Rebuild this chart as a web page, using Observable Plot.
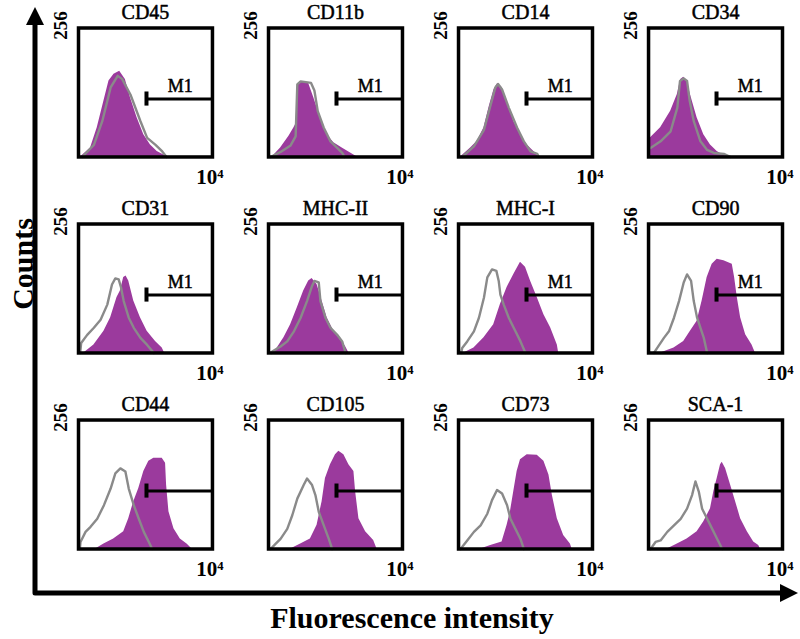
<!DOCTYPE html>
<html><head><meta charset="utf-8">
<script src="https://cdn.jsdelivr.net/npm/d3@7"></script>
<script src="https://cdn.jsdelivr.net/npm/@observablehq/plot@0.6"></script>
<style>html,body{margin:0;padding:0;background:#fff}</style>
</head><body><div id="chart"></div>
<script>
// x: log fluorescence (decades, 10^0..10^4), y: counts (0..256)
const markers = ["CD45","CD11b","CD14","CD34","CD31","MHC-II","MHC-I","CD90","CD44","CD105","CD73","SCA-1"];
const showM1Label = [true,true,true,true,true,true,true,true,false,false,false,false];

const cd45Stained = [[0.06,0],[0.36,18],[0.56,58],[0.76,111],[0.91,151],[1.06,164],[1.23,170],[1.40,154],[1.55,118],[1.75,78],[1.95,44],[2.15,24],[2.35,11],[2.55,4],[2.63,0]];
const cd45Isotype = [[0.11,0],[0.46,24],[0.71,71],[0.96,138],[1.17,161],[1.30,155],[1.55,124],[1.85,71],[2.05,38],[2.30,24],[2.50,11],[2.63,0]];
const cd11bStained = [[0.11,0],[0.36,18],[0.61,41],[0.76,58],[0.85,70],[0.88,144],[1.00,149],[1.20,146],[1.35,118],[1.55,78],[1.75,44],[1.95,28],[2.20,18],[2.45,8],[2.65,0]];
const cd11bIsotype = [[0.06,0],[0.36,10],[0.66,23],[0.81,41],[0.86,144],[0.96,150],[1.27,147],[1.37,132],[1.47,91],[1.65,58],[1.85,31],[2.05,18],[2.20,8],[2.27,0]];
const cd14Stained = [[0.06,0],[0.36,18],[0.56,31],[0.76,58],[0.91,98],[1.06,134],[1.17,146],[1.30,138],[1.45,111],[1.65,71],[1.85,44],[2.05,24],[2.25,11],[2.40,0]];
const cd14Isotype = [[0.11,0],[0.46,21],[0.76,54],[0.96,104],[1.10,138],[1.18,145],[1.30,134],[1.50,98],[1.75,58],[1.95,31],[2.15,11],[2.35,6],[2.40,0]];
const cd34Stained = [[0,34],[0.36,58],[0.66,91],[0.86,124],[0.96,154],[1.05,158],[1.15,151],[1.25,124],[1.45,78],[1.65,44],[1.85,24],[2.05,11],[2.25,3],[2.45,0]];
const cd34Isotype = [[0,16],[0.06,18],[0.36,31],[0.66,51],[0.86,98],[0.94,151],[1.05,156],[1.15,151],[1.23,111],[1.35,71],[1.55,31],[1.75,14],[1.95,8],[2.25,6],[2.45,0]];
const cd31Stained = [[0.16,0],[0.46,16],[0.76,43],[0.96,70],[1.15,110],[1.25,123],[1.35,150],[1.42,153],[1.50,143],[1.65,103],[1.85,70],[2.05,43],[2.30,23],[2.50,10],[2.57,0]];
const cd31Isotype = [[0.05,0],[0.08,20],[0.26,36],[0.46,50],[0.66,66],[0.86,96],[1.00,136],[1.10,148],[1.20,146],[1.27,130],[1.35,103],[1.50,70],[1.65,50],[1.85,30],[2.05,16],[2.25,0]];
const mhc2Stained = [[0.16,0],[0.26,10],[0.46,30],[0.66,56],[0.86,90],[1.05,123],[1.20,143],[1.30,148],[1.45,136],[1.60,103],[1.75,70],[1.95,43],[2.15,26],[2.30,13],[2.40,0]];
const mhc2Isotype = [[0.08,0],[0.11,3],[0.36,13],[0.56,23],[0.76,43],[0.96,70],[1.15,103],[1.30,133],[1.37,143],[1.50,140],[1.55,103],[1.70,70],[1.85,50],[2.05,36],[2.20,23],[2.30,0]];
const mhc1Stained = [[0.16,0],[0.46,10],[0.76,30],[1.05,56],[1.25,96],[1.45,130],[1.65,156],[1.85,180],[2.00,170],[2.15,143],[2.35,110],[2.55,76],[2.75,50],[2.95,16],[2.99,0]];
const mhc1Isotype = [[0.08,0],[0.11,10],[0.26,23],[0.46,43],[0.61,70],[0.76,110],[0.86,150],[1.00,166],[1.13,163],[1.20,143],[1.25,116],[1.35,96],[1.50,70],[1.70,43],[1.85,23],[2.00,0]];
const cd90Stained = [[0.36,0],[0.76,10],[1.05,23],[1.25,43],[1.45,63],[1.60,103],[1.75,150],[1.90,176],[2.05,186],[2.25,183],[2.50,176],[2.57,150],[2.65,110],[2.75,70],[2.90,36],[3.09,16],[3.19,0]];
const cd90Isotype = [[0.16,0],[0.26,10],[0.46,30],[0.61,43],[0.76,70],[0.91,103],[1.05,140],[1.15,156],[1.27,143],[1.35,103],[1.45,70],[1.55,50],[1.65,30],[1.75,0]];
const cd44Stained = [[0.51,0],[0.76,10],[1.05,20],[1.35,34],[1.50,60],[1.65,94],[1.80,120],[1.95,154],[2.10,174],[2.25,180],[2.50,180],[2.60,170],[2.63,127],[2.70,74],[2.85,40],[3.04,20],[3.24,10],[3.39,0]];
const cd44Isotype = [[0.04,0],[0.06,14],[0.21,34],[0.36,44],[0.56,60],[0.76,87],[0.96,120],[1.10,150],[1.25,160],[1.40,154],[1.50,120],[1.65,87],[1.80,60],[1.95,34],[2.10,14],[2.20,0]];
const cd105Stained = [[0.66,0],[0.96,10],[1.25,20],[1.45,47],[1.60,94],[1.70,140],[1.85,167],[2.00,187],[2.10,194],[2.25,187],[2.40,167],[2.55,154],[2.60,114],[2.70,60],[2.90,34],[3.14,17],[3.24,0]];
const cd105Isotype = [[0.06,0],[0.21,10],[0.36,20],[0.56,40],[0.71,67],[0.86,100],[1.05,127],[1.15,140],[1.30,127],[1.40,107],[1.50,74],[1.65,47],[1.80,20],[1.90,0]];
const cd73Stained = [[0.66,0],[0.96,7],[1.30,14],[1.45,47],[1.55,74],[1.65,114],[1.75,154],[1.85,177],[2.05,187],[2.35,186],[2.55,174],[2.70,147],[2.80,107],[2.95,60],[3.14,27],[3.34,10],[3.39,0]];
const cd73Isotype = [[0.06,0],[0.26,17],[0.46,34],[0.66,47],[0.86,70],[1.00,97],[1.15,117],[1.30,110],[1.45,87],[1.55,60],[1.70,40],[1.85,20],[1.95,0]];
const sca1Stained = [[0.56,0],[0.86,10],[1.15,20],[1.45,34],[1.65,54],[1.85,80],[1.95,114],[2.05,140],[2.15,167],[2.20,172],[2.30,160],[2.45,127],[2.60,94],[2.75,60],[2.95,34],[3.14,14],[3.29,7],[3.34,0]];
const sca1Isotype = [[0.06,0],[0.21,14],[0.36,17],[0.56,34],[0.76,47],[0.96,60],[1.15,80],[1.30,107],[1.40,134],[1.50,114],[1.60,80],[1.75,60],[1.90,40],[2.05,20],[2.20,0]];

const stainedSeries = [cd45Stained,cd11bStained,cd14Stained,cd34Stained,cd31Stained,mhc2Stained,mhc1Stained,cd90Stained,cd44Stained,cd105Stained,cd73Stained,sca1Stained];
const isotypeSeries = [cd45Isotype,cd11bIsotype,cd14Isotype,cd34Isotype,cd31Isotype,mhc2Isotype,mhc1Isotype,cd90Isotype,cd44Isotype,cd105Isotype,cd73Isotype,sca1Isotype];

// M1 gate (decades) and level (counts)
const gateStart = 2.03, gateEnd = 4, gateLevel = 115, gateTick = 14;
const m1LabelX = 3.04, m1LabelY = 140;
const yMaxLabel = "256", xMaxLabel = "10\u2074";

const panels = markers.map((name, i) => ({name, col: i % 4, row: Math.floor(i / 4), m1: showM1Label[i]}));
const stainedRows = panels.flatMap((p, i) => stainedSeries[i].map(([x, y]) => ({name: p.name, col: p.col, row: p.row, x, y})));
const isotypeRows = panels.flatMap((p, i) => isotypeSeries[i].map(([x, y]) => ({name: p.name, col: p.col, row: p.row, x, y})));

const serif = "'Liberation Serif', 'Times New Roman', serif";

const plot = Plot.plot({
  width: 800, height: 639,
  marginLeft: 78, marginRight: 18, marginTop: 27.5, marginBottom: 90.5,
  x: {domain: [0, 4], axis: null},
  y: {domain: [0, 256], axis: null},
  fx: {domain: [0, 1, 2, 3], axis: null, paddingInner: 0.295, paddingOuter: 0, round: false},
  fy: {domain: [0, 1, 2], axis: null, paddingInner: 0.342, paddingOuter: 0, round: false},
  style: {background: "white", fontFamily: serif, color: "black"},
  marks: [
    Plot.areaY(stainedRows, {x: "x", y: "y", fx: "col", fy: "row", z: "name", fill: "#9b3a9d", curve: "linear"}),
    Plot.line(isotypeRows, {x: "x", y: "y", fx: "col", fy: "row", z: "name", stroke: "#8a8a8a", strokeWidth: 2.4, curve: "linear"}),
    Plot.ruleY(panels, {y: () => gateLevel, x1: () => gateStart, x2: () => gateEnd, fx: "col", fy: "row", stroke: "black", strokeWidth: 3}),
    Plot.ruleX(panels, {x: () => gateStart, y1: () => gateLevel - gateTick, y2: () => gateLevel + gateTick, fx: "col", fy: "row", stroke: "black", strokeWidth: 4}),
    Plot.text(panels.filter(p => p.m1), {x: () => m1LabelX, y: () => m1LabelY, text: () => "M1", fx: "col", fy: "row",
      fontSize: 18, fill: "black", stroke: "black", strokeWidth: 0.5, textAnchor: "middle", lineAnchor: "middle"}),
    Plot.text(panels, {text: "name", fx: "col", fy: "row", frameAnchor: "top", textAnchor: "middle", lineAnchor: "middle", dy: -15.5,
      fontSize: 20, fill: "black", stroke: "black", strokeWidth: 0.5}),
    Plot.text(panels, {text: () => yMaxLabel, fx: "col", fy: "row", frameAnchor: "top-left", textAnchor: "middle", lineAnchor: "middle",
      rotate: -90, dx: -18, dy: -2.5, fontSize: 19, fontWeight: "bold", fill: "black"}),
    Plot.text(panels, {text: () => xMaxLabel, fx: "col", fy: "row", frameAnchor: "bottom-right", textAnchor: "end", lineAnchor: "middle",
      dx: 11, dy: 20, fontSize: 21, fontWeight: "bold", fill: "black"}),
    Plot.frame({stroke: "black", strokeWidth: 3.5})
  ]
});

const svg = d3.select(plot);
svg.append("path").attr("d", "M35,22 L35,593 L783,593").attr("fill", "none").attr("stroke", "black").attr("stroke-width", 5).attr("stroke-linejoin", "round");
svg.append("path").attr("d", "M35,7 L26,25 L44,25 Z").attr("fill", "black");
svg.append("path").attr("d", "M798,593 L780,584 L780,602 Z").attr("fill", "black");
svg.append("text").attr("transform", "translate(33,264) rotate(-90)").attr("text-anchor", "middle")
  .attr("font-family", serif).attr("font-weight", "bold").attr("font-size", 30).attr("fill", "black").text("Counts");
svg.append("text").attr("x", 412).attr("y", 628).attr("text-anchor", "middle")
  .attr("font-family", serif).attr("font-weight", "bold").attr("font-size", 30).attr("fill", "black").text("Fluorescence intensity");

document.getElementById("chart").appendChild(plot);
</script>
</body></html>
